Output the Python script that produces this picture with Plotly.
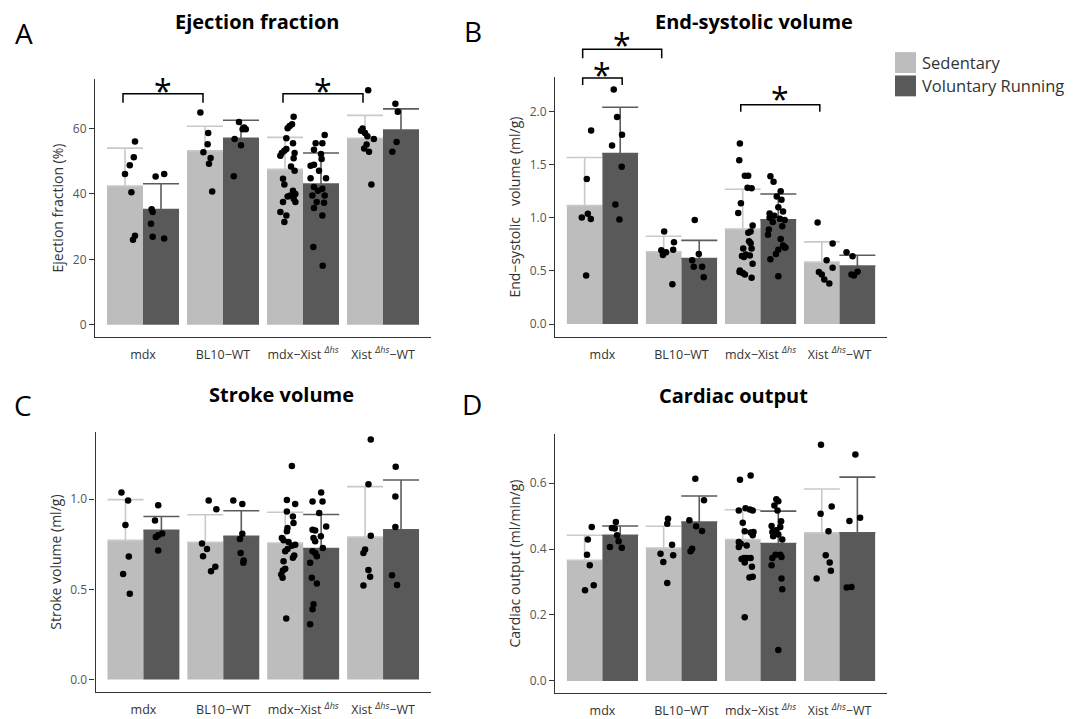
import plotly.graph_objects as go

# ---------------- data ----------------
SUP = "<sup><span style='font-size:9px;font-style:italic'>\u0394hs</span></sup>"
categories = ["mdx", "BL10\u2212WT", "mdx\u2212Xist " + SUP, "Xist " + SUP + "\u2212WT"]
groups = ["Sedentary", "Voluntary Running"]

# Panel A: Ejection fraction (%)
ef_mean_sed = [42.4, 53.2, 47.5, 57.0]
ef_sd_sed = [11.6, 7.5, 9.8, 7.0]
ef_mean_vr = [35.2, 57.0, 43.0, 59.5]
ef_sd_vr = [7.9, 5.5, 9.5, 6.5]
ef_pts_sed = [
    [56.0, 51.2, 48.8, 46.1, 40.5, 27.2, 26.0],
    [64.9, 58.6, 55.2, 52.7, 51.0, 49.2, 40.7],
    [63.6, 61.3, 60.8, 60.1, 57.0, 55.5, 53.7, 53.2, 52.5, 52.5, 51.7, 50.9, 48.4, 47.1, 44.6,
     42.9, 41.0, 40.0, 39.5, 39.2, 38.5, 37.5, 37.5, 34.5, 33.4, 31.4],
    [71.7, 60.0, 59.3, 58.6, 57.6, 56.8, 55.1, 53.9, 52.9, 42.9],
]
ef_pts_vr = [
    [45.3, 46.1, 35.3, 34.5, 30.9, 26.9, 26.4],
    [62.0, 59.8, 60.3, 59.8, 56.8, 54.9, 45.4],
    [58.0, 55.5, 55.5, 53.5, 52.2, 50.7, 48.6, 48.9, 47.1, 44.8, 44.8, 42.1, 41.6, 41.0, 39.5,
     39.5, 37.5, 35.7, 37.3, 33.4, 23.8, 18.0],
    [67.6, 65.1, 55.9, 52.9],
]
# Panel B: End-systolic volume (ml/g)
esv_mean_sed = [1.115, 0.679, 0.894, 0.583]
esv_sd_sed = [0.452, 0.147, 0.374, 0.190]
esv_mean_vr = [1.604, 0.617, 0.981, 0.545]
esv_sd_vr = [0.436, 0.171, 0.243, 0.103]
esv_pts_sed = [
    [1.82, 1.365, 1.037, 1.003, 0.988, 0.458],
    [0.872, 0.77, 0.70, 0.695, 0.675, 0.65, 0.374],
    [1.698, 1.542, 1.396, 1.396, 1.283, 1.277, 1.137, 1.044, 0.928, 0.87, 0.86, 0.78, 0.76,
     0.71, 0.71, 0.654, 0.645, 0.63, 0.567, 0.505, 0.48, 0.467, 0.436, 0.64, 0.49],
    [0.956, 0.757, 0.601, 0.53, 0.49, 0.467, 0.42, 0.383],
]
esv_pts_vr = [
    [2.206, 1.947, 1.782, 1.679, 1.48, 1.125, 0.984],
    [0.98, 0.66, 0.60, 0.54, 0.54, 0.44],
    [1.39, 1.34, 1.20, 1.17, 1.10, 1.06, 1.04, 1.02, 1.00, 0.99, 0.98, 0.96, 0.92, 0.89, 0.84,
     0.80, 0.74, 0.72, 0.70, 0.66, 0.61, 0.45, 0.72, 1.25],
    [0.676, 0.639, 0.492, 0.467, 0.458],
]
# Panel C: Stroke volume (ml/g)
sv_mean_sed = [0.772, 0.761, 0.757, 0.790]
sv_sd_sed = [0.226, 0.153, 0.171, 0.280]
sv_mean_vr = [0.827, 0.794, 0.726, 0.831]
sv_sd_vr = [0.077, 0.142, 0.189, 0.276]
sv_pts_sed = [
    [1.037, 0.993, 0.857, 0.682, 0.585, 0.476],
    [0.993, 0.945, 0.754, 0.724, 0.684, 0.625, 0.601],
    [1.184, 0.996, 0.932, 0.974, 0.904, 0.868, 0.84, 0.822, 0.785, 0.772, 0.763, 0.748, 0.742,
     0.724, 0.711, 0.688, 0.675, 0.656, 0.614, 0.605, 0.583, 0.564, 0.338],
    [1.331, 1.083, 0.798, 0.721, 0.702, 0.607, 0.57, 0.522],
]
sv_pts_vr = [
    [0.967, 0.882, 0.81, 0.80, 0.79, 0.715],
    [0.993, 0.974, 0.809, 0.779, 0.702, 0.647, 0.66],
    [1.037, 0.987, 0.987, 0.923, 0.849, 0.831, 0.827, 0.794, 0.785, 0.767, 0.73, 0.711, 0.702,
     0.684, 0.647, 0.564, 0.533, 0.417, 0.39, 0.307],
    [1.18, 1.015, 0.846, 0.579, 0.524],
]
# Panel D: Cardiac output (ml/min/g)
co_mean_sed = [0.366, 0.403, 0.429, 0.449]
co_sd_sed = [0.076, 0.066, 0.090, 0.133]
co_mean_vr = [0.442, 0.482, 0.417, 0.449]
co_sd_vr = [0.028, 0.079, 0.098, 0.169]
co_pts_sed = [
    [0.467, 0.429, 0.383, 0.351, 0.29, 0.275],
    [0.492, 0.477, 0.413, 0.386, 0.381, 0.361, 0.297],
    [0.623, 0.61, 0.524, 0.517, 0.517, 0.48, 0.454, 0.452, 0.442, 0.421, 0.416, 0.411, 0.406,
     0.373, 0.373, 0.373, 0.359, 0.346, 0.314, 0.316, 0.193, 0.37, 0.52, 0.45],
    [0.716, 0.507, 0.529, 0.454, 0.381, 0.359, 0.334, 0.311],
]
co_pts_vr = [
    [0.482, 0.464, 0.462, 0.442, 0.424, 0.406, 0.404],
    [0.613, 0.548, 0.487, 0.469, 0.455, 0.401, 0.393],
    [0.551, 0.545, 0.532, 0.517, 0.484, 0.47, 0.467, 0.457, 0.452, 0.444, 0.439, 0.429, 0.383,
     0.383, 0.373, 0.351, 0.376, 0.311, 0.278, 0.094],
    [0.687, 0.495, 0.485, 0.283, 0.285],
]

# jitter offsets of the dots (category units)
ef_jit_sed = [
    [0.125, 0.11, 0.06, 0.0, 0.08, 0.125, 0.10],
    [-0.058, 0.04, 0.033, -0.02, 0.07, 0.05, 0.09],
    [0.108, 0.088, 0.058, 0.033, 0.017, 0.1, 0.017, -0.008, -0.04, 0.12, -0.058, 0.108, 0.075,
     0.12, -0.025, -0.008, 0.1, 0.13, 0.067, 0.033, 0.108, 0.13, -0.025, -0.058, 0.017, -0.008],
    [0.04, -0.03, -0.05, 0.0, 0.03, 0.11, 0.02, -0.01, 0.05, 0.08],
]
ef_jit_vr = [
    [-0.067, 0.04, -0.117, -0.104, -0.125, -0.104, 0.04],
    [-0.025, 0.02, 0.04, 0.06, -0.08, 0.0, -0.09],
    [0.046, 0.017, -0.067, -0.088, 0.0, 0.008, -0.13, -0.088, -0.025, 0.063, -0.13, -0.088,
     0.017, -0.038, 0.046, -0.108, -0.054, -0.088, 0.038, 0.017, -0.096, 0.021],
    [-0.07, -0.04, -0.055, -0.108],
]
esv_jit_sed = [
    [0.082, 0.027, 0.04, -0.036, 0.078, 0.019],
    [0.006, 0.13, 0.12, -0.03, 0.03, -0.01, 0.11],
    [-0.036, -0.044, 0.027, 0.069, 0.061, 0.112, -0.023, -0.057, 0.125, 0.1, 0.07, 0.08, 0.1,
     0.006, 0.112, 0.04, 0.09, 0.015, 0.125, -0.036, 0.0, 0.027, 0.112, -0.01, -0.04],
    [-0.053, 0.137, 0.061, 0.137, -0.036, 0.0, 0.032, 0.095],
]
esv_jit_vr = [
    [-0.082, -0.04, 0.023, -0.103, 0.019, -0.061, -0.01],
    [-0.057, -0.006, -0.09, -0.07, 0.036, 0.057],
    [-0.1, -0.06, -0.02, 0.04, 0.0, 0.06, -0.11, -0.05, -0.11, 0.02, 0.08, -0.07, 0.05, -0.12,
     -0.13, 0.03, 0.06, 0.08, 0.0, -0.03, -0.1, 0.0, 0.09, 0.03],
    [-0.137, -0.061, 0.002, -0.074, -0.044],
]
sv_jit_sed = [
    [-0.05, 0.033, 0.0, 0.042, -0.029, 0.054],
    [0.042, 0.138, -0.042, 0.021, -0.029, 0.125, 0.071],
    [0.083, 0.021, 0.021, 0.125, 0.096, 0.104, 0.029, 0.021, -0.042, -0.021, 0.042, 0.125,
     0.083, 0.029, 0.0, 0.113, 0.096, -0.021, 0.0, -0.029, -0.05, -0.033, 0.013],
    [0.071, 0.042, 0.071, 0.0, -0.021, 0.042, 0.063, -0.021],
]
sv_jit_vr = [
    [-0.04, -0.08, 0.01, -0.04, -0.07, -0.04],
    [-0.1, 0.013, 0.013, -0.017, -0.008, 0.025, 0.03],
    [0.0, -0.108, 0.017, -0.025, 0.063, -0.108, -0.075, -0.004, -0.096, -0.075, 0.021, -0.108,
     -0.075, -0.054, -0.138, -0.117, -0.054, -0.096, -0.108, -0.138],
    [-0.067, -0.071, -0.071, -0.113, -0.05],
]
co_jit_sed = [
    [0.09, 0.04, 0.03, 0.065, 0.115, 0.005],
    [0.055, 0.045, 0.106, -0.04, 0.12, -0.005, 0.045],
    [0.1, -0.035, 0.035, -0.05, 0.126, 0.0, 0.025, 0.136, 0.126, -0.05, -0.025, 0.05, -0.05,
     0.015, 0.05, 0.1, 0.025, 0.116, 0.085, 0.126, 0.025, -0.015, 0.09, 0.1],
    [-0.01, -0.015, 0.125, 0.085, 0.05, 0.1, 0.115, -0.065],
]
co_jit_vr = [
    [-0.055, -0.105, -0.07, -0.04, -0.02, -0.13, 0.02],
    [-0.05, 0.06, -0.125, -0.04, 0.035, -0.09, -0.11],
    [-0.025, 0.0, -0.05, -0.01, 0.035, -0.085, 0.025, -0.025, -0.075, 0.0, -0.065, 0.05,
     -0.035, 0.025, -0.075, -0.085, 0.04, 0.04, 0.05, 0.0],
    [-0.025, 0.035, -0.1, -0.135, -0.075],
]

# ---------------- styling / layout ----------------
W, H = 1073, 719
SED_COL = "#bdbdbd"
VR_COL = "#595959"
SED_ERR = "#c9c9c9"
VR_ERR = "#5c5c5c"
AX_COL = "#333333"
FONT = "Open Sans"

def dom_x(p0, p1):
    return [p0 / W, p1 / W]

def dom_y(top, bottom):
    return [1 - bottom / H, 1 - top / H]

panels = [
    dict(sfx="", title="Ejection fraction", letter="A", ytitle="Ejection fraction (%)",
         xd=dom_x(95, 431), yd=dom_y(80, 339), yr=[-3.64, 75.0], tv=[0, 20, 40, 60], fmt="d",
         ms=ef_mean_sed, ss=ef_sd_sed, mv=ef_mean_vr, sv=ef_sd_vr,
         ps=ef_pts_sed, pv=ef_pts_vr, js=ef_jit_sed, jv=ef_jit_vr,
         tpos=(257, 22), lpos=(24, 33)),
    dict(sfx="2", title="End-systolic volume", letter="B", ytitle="End\u2212systolic\u00a0\u00a0 volume (ml/g)",
         xd=dom_x(555, 887), yd=dom_y(78, 339), yr=[-0.118, 2.32], tv=[0, 0.5, 1.0, 1.5, 2.0], fmt=".1f",
         ms=esv_mean_sed, ss=esv_sd_sed, mv=esv_mean_vr, sv=esv_sd_vr,
         ps=esv_pts_sed, pv=esv_pts_vr, js=esv_jit_sed, jv=esv_jit_vr,
         tpos=(754, 22), lpos=(473, 31)),
    dict(sfx="3", title="Stroke volume", letter="C", ytitle="Stroke volume (ml/g)",
         xd=dom_x(95.5, 431), yd=dom_y(435, 697), yr=[-0.07, 1.373], tv=[0, 0.5, 1.0], fmt=".1f",
         ms=sv_mean_sed, ss=sv_sd_sed, mv=sv_mean_vr, sv=sv_sd_vr,
         ps=sv_pts_sed, pv=sv_pts_vr, js=sv_jit_sed, jv=sv_jit_vr,
         tpos=(281, 397), lpos=(23, 408)),
    dict(sfx="4", title="Cardiac output", letter="D", ytitle="Cardiac output (ml/min/g)",
         xd=dom_x(555, 887), yd=dom_y(437, 698), yr=[-0.037, 0.749], tv=[0, 0.2, 0.4, 0.6], fmt=".1f",
         ms=co_mean_sed, ss=co_sd_sed, mv=co_mean_vr, sv=co_sd_vr,
         ps=co_pts_sed, pv=co_pts_vr, js=co_jit_sed, jv=co_jit_vr,
         tpos=(733, 398), lpos=(472, 407)),
]

DODGE = 0.225
cat_idx = list(range(len(categories)))

fig = go.Figure()
layout = dict(
    width=W, height=H, margin=dict(l=0, r=0, t=0, b=0),
    paper_bgcolor="white", plot_bgcolor="white",
    barmode="group", bargap=0.1, bargroupgap=0.0,
    showlegend=False, font=dict(family=FONT, color=AX_COL, size=12),
    shapes=[], annotations=[],
)

for p in panels:
    xa, ya = "x" + p["sfx"], "y" + p["sfx"]
    for name, means, sds, col, ecol in [
        (groups[0], p["ms"], p["ss"], SED_COL, SED_ERR),
        (groups[1], p["mv"], p["sv"], VR_COL, VR_ERR),
    ]:
        fig.add_trace(go.Bar(
            x=cat_idx, y=means, name=name, xaxis=xa, yaxis=ya,
            marker=dict(color=col, line=dict(width=0)),
            error_y=dict(type="data", array=sds, arrayminus=[0] * len(sds), symmetric=False,
                         color=ecol, thickness=1.6, width=18),
            hoverinfo="skip",
        ))
    for pts, jits, off in [(p["ps"], p["js"], -DODGE), (p["pv"], p["jv"], DODGE)]:
        xs, ys = [], []
        for i, (vals, jj) in enumerate(zip(pts, jits)):
            for v, j in zip(vals, jj):
                xs.append(cat_idx[i] + off + j)
                ys.append(v)
        fig.add_trace(go.Scatter(
            x=xs, y=ys, mode="markers", xaxis=xa, yaxis=ya,
            marker=dict(color="black", size=6.5, line=dict(width=0)),
            hoverinfo="skip",
        ))

    layout["xaxis" + p["sfx"]] = dict(
        domain=p["xd"], anchor=ya, range=[-0.6, 3.6],
        tickmode="array", tickvals=cat_idx, ticktext=categories,
        showline=True, linecolor=AX_COL, linewidth=1.2,
        ticks="outside", ticklen=6, tickcolor="rgba(0,0,0,0)",
        tickfont=dict(family=FONT, size=12.5, color="#333333"),
        showgrid=False, zeroline=False, fixedrange=True,
    )
    layout["yaxis" + p["sfx"]] = dict(
        domain=p["yd"], anchor=xa, range=p["yr"],
        tickmode="array", tickvals=p["tv"], tickformat=p["fmt"],
        showline=True, linecolor=AX_COL, linewidth=1.2,
        ticks="outside", ticklen=5, tickwidth=1.2, tickcolor=AX_COL,
        tickfont=dict(family=FONT, size=12, color="#555555"),
        title=dict(text=p["ytitle"], font=dict(family=FONT, size=14, color="#333333"), standoff=5),
        showgrid=False, zeroline=False, fixedrange=True,
    )
    layout["annotations"].append(dict(
        text="<b>" + p["title"] + "</b>", x=p["tpos"][0] / W, y=1 - p["tpos"][1] / H,
        xref="paper", yref="paper", xanchor="center", yanchor="middle", showarrow=False,
        font=dict(family=FONT, size=20, color="black"),
    ))
    layout["annotations"].append(dict(
        text=p["letter"], x=p["lpos"][0] / W, y=1 - p["lpos"][1] / H,
        xref="paper", yref="paper", xanchor="center", yanchor="middle", showarrow=False,
        font=dict(family=FONT, size=28, color="black"),
    ))

# significance brackets (x in data units, y converted from data units to paper)
def to_paper(p, v):
    r0, r1 = p["yr"]
    d0, d1 = p["yd"]
    return d0 + (v - r0) / (r1 - r0) * (d1 - d0)

brackets = [
    (0, -0.25, 0.75, 70.6, 67.9, 0.25, 73.9),
    (0, 1.75, 2.75, 70.6, 67.9, 2.25, 73.9),
    (1, -0.25, 0.75, 2.586, 2.50, 0.25, 2.70),
    (1, -0.25, 0.25, 2.315, 2.25, 0.0, 2.418),
    (1, 1.75, 2.75, 2.063, 1.997, 2.25, 2.184),
]
for pi, x0, x1, ytop, ybot, xs, ys in brackets:
    p = panels[pi]
    xa = "x" + p["sfx"]
    yt, yb = to_paper(p, ytop), to_paper(p, ybot)
    layout["shapes"].append(dict(
        type="path", xref=xa, yref="paper",
        path=f"M {x0} {yb} L {x0} {yt} L {x1} {yt} L {x1} {yb}",
        line=dict(color="black", width=1.5), layer="above",
    ))
    layout["annotations"].append(dict(
        text="*", x=xs, y=to_paper(p, ys), xref=xa, yref="paper",
        xanchor="center", yanchor="middle", yshift=-7, showarrow=False,
        font=dict(family=FONT, size=32, color="black"),
    ))

# legend (manual keys)
for k, (name, col) in enumerate([(groups[0], SED_COL), (groups[1], VR_COL)]):
    top = 52.5 + k * 23.5
    layout["shapes"].append(dict(
        type="rect", xref="paper", yref="paper",
        x0=895 / W, x1=916 / W, y0=1 - (top + 21) / H, y1=1 - top / H,
        fillcolor=col, line=dict(width=0),
    ))
    layout["annotations"].append(dict(
        text=name, x=920 / W, y=1 - (top + 10.5) / H, xref="paper", yref="paper",
        xanchor="left", yanchor="middle", showarrow=False,
        font=dict(family=FONT, size=16.5, color="#333333"),
    ))

fig.update_layout(**layout)
fig.write_html("out.html", config={"displayModeBar": False},
               post_script="document.body.style.margin='0';")
